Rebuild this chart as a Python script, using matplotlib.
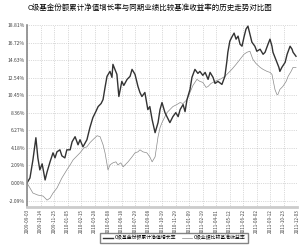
import matplotlib
matplotlib.use("Agg")
import matplotlib.pyplot as plt
import numpy as np

plt.rcParams["font.family"] = ["Noto Sans CJK SC", "DejaVu Sans"]

title = "C级基金份额累计净值增长率与同期业绩比较基准收益率的历史走势对比图"
fund_label = "C级基金份额累计净值增长率"
bench_label = "C级业绩比较基准收益率"

# day offset from start, cumulative return (%)
fund_day = [0, 9, 18, 27, 33, 39, 46, 55, 61, 70, 79, 85, 91, 100, 106, 115, 121, 131,
            137, 146, 155, 161, 170, 182, 191, 200, 209, 216, 225, 231, 237, 243, 252,
            258, 261, 267, 273, 279, 288, 294, 304, 313, 319, 328, 337, 343, 349, 358,
            367, 373, 380, 389, 398, 404, 410, 419, 425, 434, 443, 452, 459, 465, 474,
            480, 486, 495, 501, 510, 519, 525, 534, 541, 550, 556, 565, 571, 580, 592,
            601, 607, 610, 616, 622, 629, 635, 641, 647, 653, 659, 665, 671, 677, 683,
            692, 698, 708, 717, 723, 732, 738, 744, 747, 753, 759, 765, 768, 774, 784,
            790, 799, 805, 808, 817]
fund_ret = [0.0, 0.6, 2.75, 5.39, 2.99, 1.56, 2.28, 0.36, 1.32, 2.52, 3.59, 2.99, 3.71,
            3.95, 3.23, 2.99, 3.95, 3.95, 4.91, 5.51, 4.55, 5.15, 4.31, 5.15, 6.59, 7.78,
            8.50, 9.10, 9.46, 9.94, 11.38, 12.70, 13.29, 12.58, 14.13, 13.53, 12.94,
            10.30, 12.10, 11.62, 12.34, 12.70, 13.53, 12.94, 11.50, 10.78, 10.30, 10.78,
            8.74, 9.10, 7.55, 5.99, 7.19, 8.74, 9.58, 8.38, 7.90, 7.19, 7.90, 8.38, 7.90,
            8.74, 9.34, 8.50, 9.94, 11.14, 12.58, 13.53, 13.05, 13.29, 12.82, 13.17,
            12.34, 13.17, 12.58, 11.86, 12.10, 11.74, 12.70, 14.49, 15.57, 16.89, 17.37,
            17.85, 17.13, 17.49, 16.53, 16.29, 17.37, 18.32, 18.68, 17.73, 16.77, 16.29,
            15.69, 15.93, 15.33, 15.57, 16.53, 17.13, 16.29, 15.57, 14.97, 14.37, 13.77,
            13.29, 13.77, 14.37, 15.33, 16.29, 15.93, 15.57, 15.09]

bench_day = [0, 9, 18, 33, 49, 61, 70, 79, 91, 106, 121, 131, 140, 152, 161, 173, 182,
             191, 200, 213, 222, 231, 237, 246, 252, 261, 270, 276, 285, 292, 301, 307,
             319, 328, 337, 343, 352, 364, 373, 380, 389, 398, 404, 410, 419, 425, 434,
             443, 455, 465, 474, 486, 495, 504, 516, 525, 534, 544, 550, 559, 565, 577,
             586, 601, 610, 622, 635, 647, 659, 668, 677, 686, 695, 708, 717, 729, 738,
             744, 750, 753, 759, 762, 768, 777, 787, 793, 802, 808, 817]
bench_ret = [0.0, -0.60, -1.20, -1.44, -1.56, -2.04, -1.80, -1.20, -0.60, 0.60, 1.56,
             2.16, 2.75, 3.23, 3.59, 4.19, 4.31, 4.79, 5.15, 5.63, 5.51, 4.55, 3.59, 1.56,
             2.16, 2.40, 2.52, 2.16, 2.40, 1.92, 2.28, 2.52, 3.11, 3.59, 3.71, 3.95, 3.71,
             3.59, 3.11, 2.52, 3.11, 5.51, 6.59, 7.19, 7.90, 8.38, 8.74, 9.10, 9.34, 9.58,
             9.46, 9.94, 10.78, 11.62, 12.34, 12.10, 11.98, 11.38, 11.50, 11.86, 11.98,
             12.22, 12.34, 12.70, 13.05, 13.53, 14.13, 14.73, 15.33, 15.57, 15.69, 14.73,
             14.25, 13.77, 13.53, 13.29, 13.17, 12.94, 11.74, 11.14, 10.54, 10.54, 11.14,
             11.50, 12.10, 12.70, 13.29, 13.77, 13.77]

y_ticks = [-2.09, 0.00, 2.09, 4.18, 6.27, 8.36, 10.45, 12.54, 14.63, 16.72, 18.81]
x_tick_labels = ["2009-09-03", "2009-10-14", "2009-11-25", "2010-01-05", "2010-02-15",
                 "2010-03-28", "2010-05-08", "2010-06-18", "2010-07-29", "2010-09-08",
                 "2010-10-19", "2010-11-29", "2011-01-09", "2011-02-19", "2011-04-01",
                 "2011-05-12", "2011-06-22", "2011-08-02", "2011-09-12", "2011-10-23",
                 "2011-12-03"]
tick_step = 41

fig = plt.figure(figsize=(3.0, 2.48), dpi=100)
ax = fig.add_axes([0.09, 0.165, 0.9, 0.734])

ax.plot(bench_day, bench_ret, color="#8a8a8a", lw=0.5, label=bench_label)
ax.plot(fund_day, fund_ret, color="#333333", lw=1.0, label=fund_label)

ax.set_xlim(0, tick_step * (len(x_tick_labels) - 1))
ax.set_ylim(-2.87, 18.81)
ax.set_yticks(y_ticks)
ax.set_yticklabels([f"{v:.2f}%" for v in y_ticks], fontsize=3.6, color="#444444")
ax.set_xticks(np.arange(len(x_tick_labels)) * tick_step)
ax.set_xticklabels(x_tick_labels, rotation=90, fontsize=3.3, color="#444444")
ax.tick_params(length=0, pad=1.5)
ax.grid(True, color="#b8b8b8", ls=":", lw=0.5)

for s in ["top", "right"]:
    ax.spines[s].set_visible(False)
ax.spines["left"].set_color("#888888")
ax.spines["left"].set_linewidth(1.2)
ax.spines["bottom"].set_color("#cccccc")
ax.spines["bottom"].set_linewidth(2.0)

handles, labels = ax.get_legend_handles_labels()
fig.legend(handles[::-1], labels[::-1], loc="lower center", bbox_to_anchor=(0.58, 0.01),
           ncol=2, fontsize=3.5, frameon=True, fancybox=False, edgecolor="#666666",
           handlelength=2.0, borderpad=0.5, columnspacing=1.2, handletextpad=0.4)

fig.suptitle(title, fontsize=5.4, y=0.985)

fig.savefig("out.png", dpi=100)
